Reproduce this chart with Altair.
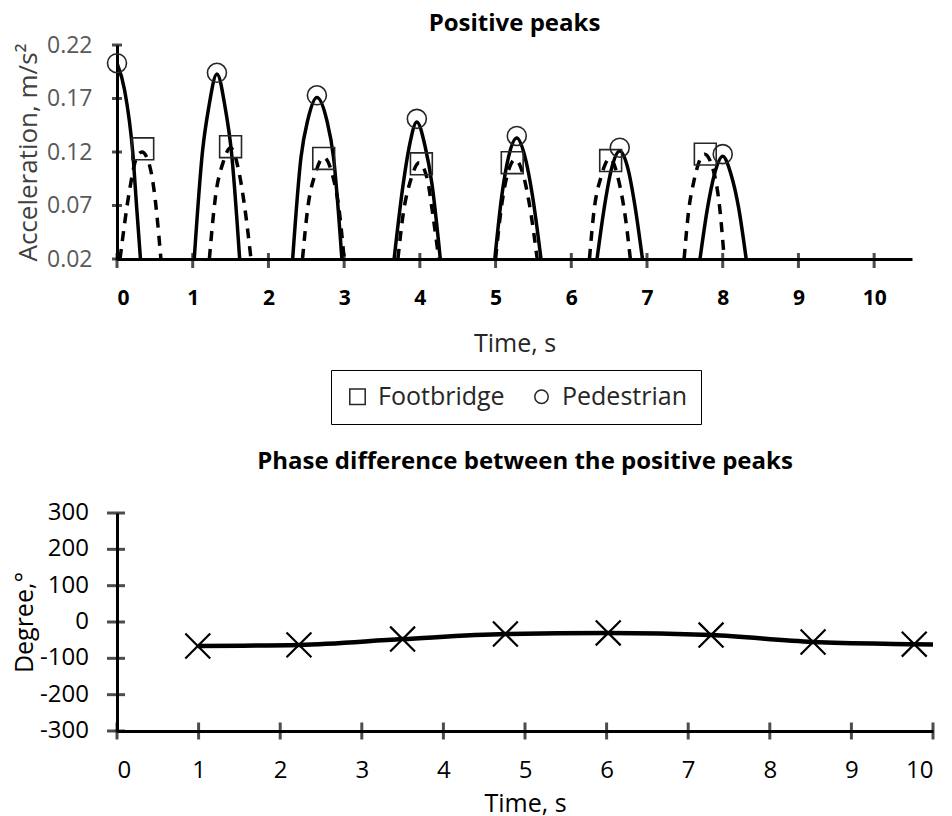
import altair as alt
import pandas as pd

FONT = "Open Sans"

# ---------------- Top chart data: positive peaks ----------------
# Pedestrian response arches (solid line), one list per arch
ped_arch_t = [
    [0.00, 0.10, 0.21, 0.26, 0.31],
    [1.02, 1.13, 1.21, 1.32, 1.43, 1.51, 1.62],
    [2.32, 2.43, 2.52, 2.64, 2.77, 2.86, 2.97],
    [3.66, 3.78, 3.86, 3.96, 4.07, 4.16, 4.27],
    [4.99, 5.08, 5.17, 5.28, 5.39, 5.49, 5.60],
    [6.34, 6.44, 6.53, 6.64, 6.75, 6.84, 6.94],
    [7.70, 7.80, 7.89, 8.00, 8.11, 8.21, 8.31],
]
ped_arch_a = [
    [0.203, 0.178, 0.118, 0.068, 0.020],
    [0.020, 0.121, 0.161, 0.193, 0.161, 0.121, 0.020],
    [0.020, 0.115, 0.150, 0.171, 0.150, 0.115, 0.020],
    [0.020, 0.090, 0.125, 0.148, 0.125, 0.090, 0.020],
    [0.020, 0.078, 0.115, 0.133, 0.115, 0.078, 0.020],
    [0.020, 0.070, 0.104, 0.121, 0.104, 0.070, 0.020],
    [0.020, 0.068, 0.099, 0.116, 0.099, 0.068, 0.020],
]
# Footbridge response arches (dashed line)
foot_arch_t = [
    [0.04, 0.17, 0.25, 0.33, 0.42, 0.49, 0.58],
    [1.22, 1.30, 1.40, 1.50, 1.60, 1.68, 1.77],
    [2.45, 2.52, 2.62, 2.73, 2.84, 2.93, 3.00],
    [3.71, 3.78, 3.88, 3.99, 4.10, 4.17, 4.25],
    [5.00, 5.08, 5.16, 5.26, 5.36, 5.45, 5.55],
    [6.24, 6.30, 6.39, 6.51, 6.63, 6.72, 6.78],
    [7.49, 7.55, 7.62, 7.76, 7.89, 7.96, 8.02],
]
foot_arch_a = [
    [0.020, 0.086, 0.113, 0.120, 0.110, 0.084, 0.020],
    [0.020, 0.078, 0.110, 0.124, 0.105, 0.072, 0.020],
    [0.020, 0.068, 0.100, 0.115, 0.100, 0.068, 0.020],
    [0.020, 0.062, 0.094, 0.110, 0.094, 0.062, 0.020],
    [0.020, 0.070, 0.100, 0.113, 0.100, 0.070, 0.020],
    [0.020, 0.065, 0.096, 0.114, 0.092, 0.056, 0.020],
    [0.020, 0.065, 0.093, 0.118, 0.099, 0.068, 0.020],
]
# Peak markers
ped_peak_t = [0.00, 1.32, 2.64, 3.96, 5.28, 6.64, 8.00]
ped_peak_a = [0.203, 0.194, 0.173, 0.151, 0.135, 0.124, 0.118]
foot_peak_t = [0.34, 1.50, 2.73, 4.02, 5.22, 6.52, 7.77]
foot_peak_a = [0.123, 0.125, 0.114, 0.109, 0.110, 0.112, 0.118]

top_x_ticks = [0, 1, 2, 3, 4, 5, 6, 7, 8, 9, 10]
top_y_ticks = [0.02, 0.07, 0.12, 0.17, 0.22]

# ---------------- Bottom chart data: phase difference ----------------
phase_t = [0.99, 2.23, 3.50, 4.76, 6.02, 7.28, 8.53, 9.77]
phase_deg = [-66, -63, -47, -33, -30, -36, -55, -61]
phase_line_t = [0.99, 2.23, 3.50, 4.76, 6.02, 7.28, 8.53, 9.77, 10.0]
phase_line_deg = [-66, -63, -47, -33, -30, -36, -55, -61, -62]

bot_x_ticks = [0, 1, 2, 3, 4, 5, 6, 7, 8, 9, 10]
bot_y_ticks = [-300, -200, -100, 0, 100, 200, 300]
bot_y_labels = ["-300", "-200", "-100", "0", "100", "200", "300"]

# ---------------- Build tables ----------------
def arches(ts, as_, name):
    rows = []
    for i, (tt, aa) in enumerate(zip(ts, as_)):
        for t, a in zip(tt, aa):
            rows.append({"t": t, "a": a, "arch": f"{name}{i}"})
    return pd.DataFrame(rows)

ped_df = arches(ped_arch_t, ped_arch_a, "p")
foot_df = arches(foot_arch_t, foot_arch_a, "f")
peaks_df = pd.DataFrame(
    {"t": foot_peak_t + ped_peak_t,
     "a": foot_peak_a + ped_peak_a,
     "series": ["Footbridge"] * len(foot_peak_t) + ["Pedestrian"] * len(ped_peak_t)}
)
tx_df = pd.DataFrame({"t": top_x_ticks})
ty_df = pd.DataFrame({"a": top_y_ticks})

TW, TH = 795, 214
xs_top = alt.Scale(domain=[0, 10.5], nice=False, zero=False)
ys_top = alt.Scale(domain=[0.02, 0.22], nice=False, zero=False)

x_top_axis = alt.Axis(
    values=top_x_ticks, format="d", title="Time, s", grid=False, ticks=False, tickSize=0,
    labelFontWeight="bold", labelFontSize=21, labelColor="black", labelPadding=28,
    titleFontSize=25, titleFontWeight="normal", titleColor="#262626", titlePadding=23,
    domainWidth=3, domainColor="black", labelOverlap=False,
)
y_top_axis = alt.Axis(
    values=top_y_ticks, format=".2f", title="Acceleration, m/s²", grid=False, ticks=False,
    tickSize=0, labelFontSize=23, labelColor="#595959", labelPadding=25,
    titleFontSize=26, titleFontWeight="normal", titleColor="#404040", titlePadding=5,
    domainWidth=3, domainColor="black", labelOverlap=False,
)

ped_line = alt.Chart(ped_df).mark_line(
    color="black", strokeWidth=3.5, interpolate="monotone", clip=True
).encode(
    x=alt.X("t:Q", scale=xs_top, axis=x_top_axis),
    y=alt.Y("a:Q", scale=ys_top, axis=y_top_axis),
    detail="arch:N",
)
foot_line = alt.Chart(foot_df).mark_line(
    color="black", strokeWidth=3.5, strokeDash=[10, 8], interpolate="monotone", clip=True
).encode(x="t:Q", y="a:Q", detail="arch:N")

SQUARE = "M-1.15,-1.15L1.15,-1.15L1.15,1.15L-1.15,1.15Z"
peak_pts = alt.Chart(peaks_df).mark_point(
    filled=False, color="#262626", strokeWidth=1.6, opacity=1, size=361
).encode(
    x="t:Q",
    y="a:Q",
    shape=alt.Shape(
        "series:N",
        scale=alt.Scale(domain=["Footbridge", "Pedestrian"], range=[SQUARE, "circle"]),
        legend=alt.Legend(
            title=None, orient="none", legendX=214, legendY=325, direction="horizontal",
            strokeColor="black", padding=14, labelFontSize=25,
            labelColor="#262626", labelFont=FONT, symbolSize=180, symbolStrokeWidth=1.5,
            symbolStrokeColor="#262626", symbolFillColor="transparent",
            columnPadding=24, labelOffset=8, fillColor="white",
        ),
    ),
)

top_yticks = alt.Chart(ty_df).mark_tick(
    orient="horizontal", size=10, thickness=3, color="black"
).encode(y="a:Q", x=alt.value(0))
top_xticks = alt.Chart(tx_df).mark_tick(
    orient="vertical", size=15, thickness=3, color="black"
).encode(x="t:Q", y=alt.value(TH + 1.5))

top = alt.layer(ped_line, foot_line, top_yticks, top_xticks, peak_pts).properties(
    width=TW, height=TH,
    title=alt.TitleParams("Positive peaks", fontSize=24, fontWeight="bold", font=FONT,
                          color="black", offset=-2),
)

# ---------------- Bottom chart ----------------
phase_pts_df = pd.DataFrame({"t": phase_t, "deg": phase_deg})
phase_line_df = pd.DataFrame({"t": phase_line_t, "deg": phase_line_deg})
bx_df = pd.DataFrame({"t": bot_x_ticks})
by_df = pd.DataFrame({"deg": bot_y_ticks, "label": bot_y_labels})

BW, BH = 816, 218
xs_bot = alt.Scale(domain=[0, 10], nice=False, zero=False)
ys_bot = alt.Scale(domain=[-300, 300], nice=False, zero=False)

x_bot_axis = alt.Axis(
    values=bot_x_ticks, format="d", title="Time, s", grid=False, ticks=False, tickSize=0,
    labelFontSize=24, labelColor="black", labelPadding=27,
    titleFontSize=25, titleFontWeight="normal", titleColor="black", titlePadding=9,
    domainWidth=3, domainColor="black", labelOverlap=False,
)
y_bot_axis = alt.Axis(
    values=bot_y_ticks, title="Degree,°", grid=False, ticks=False, tickSize=0,
    labels=True, labelOpacity=0, labelExpr="'' + datum.value",
    labelFontSize=24, labelColor="black", labelPadding=28,
    titleFontSize=25, titleFontWeight="normal", titleColor="black", titlePadding=3,
    domainWidth=3, domainColor="black", labelOverlap=False,
)

phase_line = alt.Chart(phase_line_df).mark_line(
    color="black", strokeWidth=4.5, interpolate="monotone"
).encode(
    x=alt.X("t:Q", scale=xs_bot, axis=x_bot_axis),
    y=alt.Y("deg:Q", scale=ys_bot, axis=y_bot_axis),
)
phase_pts = alt.Chart(phase_pts_df).mark_point(
    shape="M-1,-1L1,1M-1,1L1,-1", size=620, filled=False, color="black",
    strokeWidth=2.2, opacity=1,
).encode(x="t:Q", y="deg:Q")

bot_yticks = alt.Chart(by_df).mark_tick(
    orient="horizontal", size=18, thickness=3, color="black"
).encode(y="deg:Q", x=alt.value(-1))
bot_ylabels = alt.Chart(by_df).mark_text(
    align="right", baseline="middle", fontSize=24, font=FONT, color="black"
).encode(y="deg:Q", x=alt.value(-28), text="label:N")
bot_xticks = alt.Chart(bx_df).mark_tick(
    orient="vertical", size=17, thickness=3, color="black"
).encode(x="t:Q", y=alt.value(BH))

bottom = alt.layer(phase_line, bot_yticks, bot_ylabels, bot_xticks, phase_pts).properties(
    width=BW, height=BH,
    title=alt.TitleParams("Phase difference between the positive peaks", fontSize=24,
                          fontWeight="bold", font=FONT, color="black", offset=27),
)

chart = alt.vconcat(top, bottom, spacing=25).resolve_scale(
    x="independent", y="independent", shape="independent"
).resolve_legend(shape="independent").properties(
    padding={"left": 4, "top": 4, "right": 0, "bottom": 0},
    background="white",
).configure(font=FONT).configure_view(stroke=None).configure_axis(
    labelFont=FONT, titleFont=FONT, labelOverlap=False
)

chart.save("out.html", embed_options={"renderer": "svg", "actions": False})
